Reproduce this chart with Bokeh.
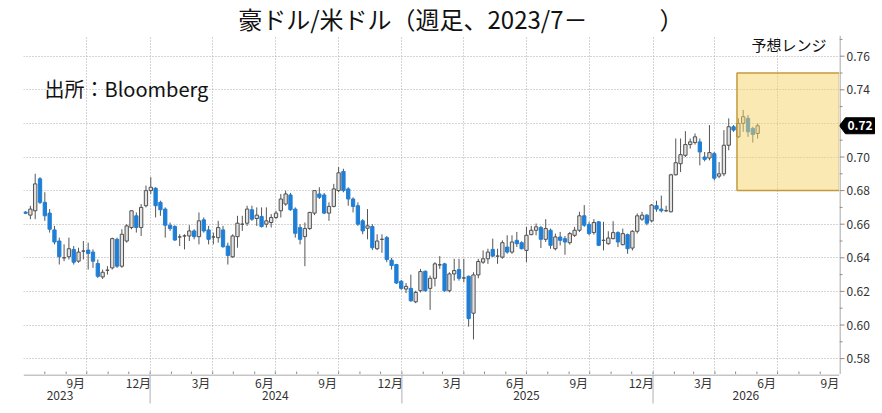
import pandas as pd
from bokeh.plotting import figure
from bokeh.models import Range1d, FixedTicker
from bokeh.layouts import column, row
from bokeh.embed import file_html
from bokeh.resources import INLINE
from bokeh.core.properties import value

# ---------------- data (weekly AUD/USD candles) ----------------
first_week = "2023-07-04"
open_ = [0.6672, 0.6654, 0.668, 0.687, 0.673, 0.6666, 0.6566, 0.650, 0.640, 0.6406,
         0.645, 0.638, 0.644, 0.6446, 0.6434, 0.6366, 0.6286, 0.6326, 0.634, 0.651,
         0.635, 0.650, 0.658, 0.665, 0.658, 0.671, 0.680, 0.6814, 0.673, 0.669,
         0.6594, 0.6586, 0.6524, 0.653, 0.653, 0.656, 0.6526, 0.6626, 0.6566, 0.6524,
         0.652, 0.6566, 0.647, 0.6406, 0.6526, 0.660, 0.6606, 0.6686, 0.6634, 0.6646,
         0.660, 0.661, 0.664, 0.668, 0.672, 0.6774, 0.669, 0.658, 0.6526, 0.6574,
         0.6666, 0.678, 0.6774, 0.6666, 0.6706, 0.680, 0.6914, 0.681, 0.675, 0.671,
         0.662, 0.6576, 0.6586, 0.6454, 0.651, 0.652, 0.6386, 0.636, 0.626, 0.6214,
         0.6218, 0.6138, 0.6204, 0.632, 0.6218, 0.6278, 0.6358, 0.6364, 0.6204, 0.6304,
         0.633, 0.628, 0.629, 0.607, 0.6298, 0.6374, 0.6394, 0.645, 0.641, 0.6404,
         0.6464, 0.6434, 0.6504, 0.649, 0.6444, 0.6538, 0.6564, 0.658, 0.651, 0.6564,
         0.6454, 0.6524, 0.6514, 0.649, 0.6534, 0.6564, 0.665, 0.6598, 0.655, 0.6614,
         0.6504, 0.6484, 0.6514, 0.655, 0.6478, 0.6538, 0.6458, 0.6558, 0.663, 0.6654,
         0.662, 0.671, 0.669, 0.668, 0.6674, 0.6894, 0.696, 0.701, 0.7074, 0.7086,
         0.709, 0.700, 0.6994, 0.702, 0.6886, 0.690, 0.707, 0.718, 0.712, 0.720,
         0.723, 0.717, 0.714]
high_ = [0.6678, 0.671, 0.690, 0.688, 0.679, 0.669, 0.659, 0.652, 0.648, 0.652,
         0.647, 0.646, 0.650, 0.649, 0.645, 0.639, 0.633, 0.635, 0.652, 0.652,
         0.657, 0.660, 0.668, 0.667, 0.672, 0.683, 0.688, 0.682, 0.674, 0.670,
         0.661, 0.6594, 0.654, 0.654, 0.6594, 0.657, 0.667, 0.664, 0.659, 0.655,
         0.662, 0.659, 0.649, 0.654, 0.665, 0.665, 0.671, 0.671, 0.670, 0.670,
         0.670, 0.666, 0.668, 0.678, 0.680, 0.6786, 0.670, 0.660, 0.661, 0.6674,
         0.680, 0.682, 0.6786, 0.673, 0.684, 0.694, 0.693, 0.682, 0.676, 0.673,
         0.663, 0.669, 0.660, 0.654, 0.654, 0.653, 0.640, 0.6364, 0.6268, 0.625,
         0.630, 0.6204, 0.6334, 0.6324, 0.6294, 0.6374, 0.641, 0.637, 0.6314, 0.6394,
         0.6394, 0.6394, 0.6294, 0.6314, 0.6394, 0.6444, 0.6454, 0.6514, 0.6454, 0.6504,
         0.6534, 0.6534, 0.6554, 0.6498, 0.6584, 0.659, 0.6604, 0.659, 0.663, 0.6574,
         0.6544, 0.6554, 0.653, 0.6554, 0.6584, 0.6674, 0.6714, 0.6614, 0.663, 0.6618,
         0.6614, 0.6558, 0.6618, 0.6558, 0.6574, 0.6544, 0.6564, 0.6664, 0.6674, 0.666,
         0.672, 0.674, 0.677, 0.671, 0.690, 0.711, 0.711, 0.7154, 0.711, 0.714,
         0.711, 0.703, 0.719, 0.703, 0.697, 0.716, 0.723, 0.719, 0.723, 0.728,
         0.725, 0.718, 0.720]
low_ = [0.6660, 0.663, 0.663, 0.672, 0.662, 0.655, 0.648, 0.636, 0.638, 0.639,
        0.636, 0.637, 0.639, 0.633, 0.634, 0.628, 0.6274, 0.630, 0.633, 0.634,
        0.634, 0.649, 0.657, 0.655, 0.653, 0.670, 0.678, 0.664, 0.665, 0.652,
        0.656, 0.650, 0.647, 0.645, 0.650, 0.651, 0.648, 0.655, 0.648, 0.648,
        0.649, 0.646, 0.636, 0.640, 0.646, 0.656, 0.659, 0.662, 0.659, 0.658,
        0.658, 0.658, 0.663, 0.664, 0.671, 0.668, 0.652, 0.648, 0.635, 0.6566,
        0.6654, 0.675, 0.666, 0.662, 0.670, 0.679, 0.679, 0.671, 0.667, 0.659,
        0.654, 0.651, 0.6446, 0.6446, 0.643, 0.6374, 0.633, 0.6244, 0.621, 0.619,
        0.6138, 0.613, 0.6194, 0.6198, 0.609, 0.623, 0.6334, 0.6198, 0.6194, 0.6264,
        0.6264, 0.6254, 0.599, 0.5914, 0.6278, 0.6364, 0.6364, 0.6404, 0.6364, 0.6394,
        0.6424, 0.6424, 0.6464, 0.645, 0.6374, 0.6534, 0.6534, 0.6458, 0.6494, 0.6454,
        0.6444, 0.6474, 0.6418, 0.6478, 0.6524, 0.6554, 0.6584, 0.6534, 0.6538, 0.647,
        0.6444, 0.6478, 0.651, 0.6464, 0.6474, 0.6424, 0.6444, 0.6544, 0.662, 0.6594,
        0.661, 0.6674, 0.667, 0.6674, 0.667, 0.689, 0.691, 0.700, 0.705, 0.7074,
        0.695, 0.6974, 0.698, 0.686, 0.6874, 0.6886, 0.704, 0.715, 0.7114, 0.715,
        0.712, 0.7086, 0.711]
close_ = [0.6665, 0.669, 0.684, 0.673, 0.665, 0.657, 0.6494, 0.6406, 0.640, 0.6454,
          0.6374, 0.6434, 0.644, 0.6426, 0.638, 0.629, 0.6314, 0.6326, 0.6514, 0.635,
          0.654, 0.659, 0.668, 0.658, 0.670, 0.680, 0.682, 0.671, 0.6686, 0.6594,
          0.6574, 0.6506, 0.6524, 0.653, 0.656, 0.6526, 0.662, 0.656, 0.651, 0.6524,
          0.658, 0.6466, 0.6414, 0.653, 0.6606, 0.660, 0.669, 0.663, 0.6654, 0.6586,
          0.662, 0.664, 0.6666, 0.675, 0.678, 0.6686, 0.6546, 0.651, 0.6574, 0.667,
          0.680, 0.676, 0.6666, 0.6706, 0.681, 0.6906, 0.680, 0.675, 0.6706, 0.660,
          0.656, 0.659, 0.646, 0.650, 0.651, 0.639, 0.6354, 0.625, 0.6218, 0.623,
          0.6144, 0.6194, 0.6318, 0.6204, 0.6278, 0.6364, 0.6358, 0.6204, 0.6304, 0.6324,
          0.6278, 0.628, 0.6038, 0.6298, 0.6378, 0.6394, 0.6434, 0.641, 0.641, 0.649,
          0.6434, 0.6494, 0.6484, 0.6454, 0.6534, 0.6564, 0.6584, 0.651, 0.6574, 0.6474,
          0.6524, 0.6504, 0.6494, 0.6544, 0.6564, 0.665, 0.6594, 0.6544, 0.661, 0.6474,
          0.6504, 0.6518, 0.655, 0.6494, 0.6544, 0.6454, 0.6558, 0.665, 0.6654, 0.6606,
          0.6714, 0.669, 0.668, 0.668, 0.6894, 0.6966, 0.7014, 0.7074, 0.709, 0.712,
          0.703, 0.6986, 0.7026, 0.6874, 0.690, 0.707, 0.718, 0.716, 0.720, 0.724,
          0.715, 0.7134, 0.7186]

# forecast range (予想レンジ)
range_start = "2026-05-03"
range_low = 0.68
range_high = 0.75

# axis ticks / labels
y_ticks = [0.58, 0.60, 0.62, 0.64, 0.66, 0.68, 0.70, 0.72, 0.74, 0.76]
y_tick_labels = ["0.58", "0.60", "0.62", "0.64", "0.66", "0.68", "0.70", "0.72", "0.74", "0.76"]
y_minor_ticks = [0.57, 0.59, 0.61, 0.63, 0.65, 0.67, 0.69, 0.71, 0.73, 0.75, 0.77]
grid_dates = ["2023-10-01", "2024-01-01", "2024-04-01", "2024-07-01", "2024-10-01",
              "2025-01-01", "2025-04-01", "2025-07-01", "2025-10-01", "2026-01-01",
              "2026-04-01", "2026-07-01"]
month_label_dates = ["2023-09-15", "2023-12-15", "2024-03-15", "2024-06-15", "2024-09-15",
                     "2024-12-15", "2025-03-15", "2025-06-15", "2025-09-15", "2025-12-15",
                     "2026-03-15", "2026-06-15", "2026-09-15"]
month_labels = ["9月", "12月", "3月", "6月", "9月", "12月", "3月", "6月", "9月", "12月",
                "3月", "6月", "9月"]
year_label_dates = ["2023-08-23", "2024-07-01", "2025-07-01", "2026-05-16"]
year_labels = ["2023", "2024", "2025", "2026"]
year_sep_dates = ["2024-01-01", "2025-01-01", "2026-01-01"]

title_text = "豪ドル/米ドル（週足、2023/7－　　　）"
source_text = "出所：Bloomberg"
range_text = "予想レンジ"

# ---------------- geometry (pixels of the 882x413 page) ----------------
W = 882
FL, FR = 23, 839            # plot frame left / right
FT, FB = 35, 374            # plot frame top / bottom
H_STRIP = 413 - FB
X0 = pd.Timestamp("2023-07-01")
X1 = pd.Timestamp("2026-09-29")
# value range of the frame: 0.76 sits at y=55.7 and 0.02 spans 33.6 px
PX_PER_UNIT = 33.6 / 0.02
Y1 = 0.76 + (55.7 - FT) / PX_PER_UNIT
Y0 = 0.76 - (FB - 55.7) / PX_PER_UNIT
FONT = "Noto Sans CJK JP"
AXIS_GREY = "#8c8c8c"
TEXT_GREY = "#333333"


def ms(ts):
    return pd.Timestamp(ts).value / 1e6


def px2ms(px):
    return ms(X0) + (px - FL) / (FR - FL) * (ms(X1) - ms(X0))


def py2val(py):
    return Y1 - (py - FT) / PX_PER_UNIT


def base_fig(width, height, x_range, y_range, **kw):
    f = figure(width=width, height=height, x_range=x_range, y_range=y_range,
               toolbar_location=None, output_backend="svg", min_border_top=0,
               min_border_bottom=0, **kw)
    f.outline_line_color = None
    f.background_fill_color = "white"
    f.border_fill_color = "white"
    return f


# ---------------- title strip ----------------
t = base_fig(W, FT, Range1d(0, W), Range1d(FT, 0), x_axis_location=None,
             y_axis_location=None, min_border_left=0, min_border_right=0)
t.xgrid.visible = False
t.ygrid.visible = False
t.text(x=[232], y=[FT / 2], text=[title_text], text_font=value(FONT), text_font_size="24px",
       text_color="#111111", text_align="left", text_baseline="middle")

# ---------------- main plot ----------------
dates = pd.date_range(first_week, periods=len(open_), freq="7D")
up = [c >= o for o, c in zip(open_, close_)]
cdata = dict(
    x=dates,
    top=[max(o, c) for o, c in zip(open_, close_)],
    bottom=[min(o, c) for o, c in zip(open_, close_)],
    high=high_, low=low_,
    fill=["#e3e3e3" if u else "#1f7fd6" for u in up],
    line=["#505050" if u else "#1f7fd6" for u in up],
)

p = base_fig(FR, FB - FT, Range1d(ms(X0), ms(X1)), Range1d(Y0, Y1),
             x_axis_type="datetime", x_axis_location=None, y_axis_location=None,
             min_border_left=FL, min_border_right=0)
p.xgrid.ticker = FixedTicker(ticks=[ms(d) for d in grid_dates])
p.ygrid.ticker = FixedTicker(ticks=y_ticks)
for g in (p.xgrid[0], p.ygrid[0]):
    g.grid_line_color = "#ababab"
    g.grid_line_dash = "1 2"
    g.grid_line_width = 1

# monthly minor ticks of the date axis (pointing into the plot)
month_starts = pd.date_range("2023-08-01", "2026-09-01", freq="MS")
tick_len = 3 / PX_PER_UNIT
p.segment(x0=month_starts, x1=month_starts, y0=[Y0] * len(month_starts),
          y1=[Y0 + tick_len] * len(month_starts), line_color=AXIS_GREY, line_width=1)

# candles
bw = 4.8 * 24 * 3600 * 1000
p.segment(x0="x", x1="x", y0="high", y1="low", source=cdata, line_color="#555555", line_width=1)
p.vbar(x="x", width=bw, top="top", bottom="bottom", source=cdata,
       fill_color="fill", line_color="line", line_width=1)

# forecast range box
p.quad(left=[ms(range_start)], right=[ms(X1)], bottom=[range_low], top=[range_high],
       fill_color="#f8d46a", fill_alpha=0.5, line_color="#c39a3b", line_width=1.5)

p.text(x=[px2ms(44)], y=[py2val(88)], text=[source_text], text_font=value(FONT),
       text_font_size="20px", text_color="#111111", text_baseline="middle", text_align="left")
p.text(x=[px2ms(826)], y=[py2val(44)], text=[range_text], text_font=value(FONT),
       text_font_size="15px", text_color="#111111", text_baseline="middle", text_align="right")

# ---------------- right value axis (shares the plot's y scale) ----------------
SW = W - FR
r = base_fig(SW, FB - FT, Range1d(0, SW), p.y_range, x_axis_location=None,
             y_axis_location=None, min_border_left=0, min_border_right=0)
r.xgrid.visible = False
r.ygrid.visible = False
r.segment(x0=[0.5], x1=[0.5], y0=[Y0], y1=[Y1], line_color=AXIS_GREY, line_width=1)
r.segment(x0=[0] * len(y_ticks), x1=[5] * len(y_ticks), y0=y_ticks, y1=y_ticks,
          line_color=AXIS_GREY, line_width=1)
r.segment(x0=[0] * len(y_minor_ticks), x1=[3] * len(y_minor_ticks), y0=y_minor_ticks,
          y1=y_minor_ticks, line_color=AXIS_GREY, line_width=1)
r.text(x=[7] * len(y_ticks), y=y_ticks, text=y_tick_labels, text_font=value(FONT),
       text_font_size="12px", text_color=TEXT_GREY, text_align="left", text_baseline="middle")

# last-price tag
last = close_[-1]
hh = 8 / PX_PER_UNIT
r.patch(x=[0, 6, 35, 35, 6], y=[last, last + hh, last + hh, last - hh, last - hh],
        fill_color="black", line_color="black")
r.text(x=[8], y=[last], text=[f"{last:.2f}"], text_font=value(FONT), text_font_size="12px",
       text_font_style="bold", text_color="white", text_align="left", text_baseline="middle")

# ---------------- bottom strip: axis line, month/year labels ----------------
s = base_fig(W, H_STRIP, p.x_range, Range1d(H_STRIP, 0), x_axis_location=None,
             y_axis_location=None, min_border_left=FL, min_border_right=W - FR)
s.xgrid.visible = False
s.ygrid.visible = False
s.segment(x0=[ms(X0)], x1=[ms(X1)], y0=[0.5], y1=[0.5], line_color=AXIS_GREY, line_width=1)
s.segment(x0=[ms(d) for d in year_sep_dates], x1=[ms(d) for d in year_sep_dates],
          y0=[0] * len(year_sep_dates), y1=[29] * len(year_sep_dates),
          line_color="#b0b0b0", line_width=1)
s.text(x=[ms(d) for d in month_label_dates], y=[8] * len(month_labels), text=month_labels,
       text_font=value(FONT), text_font_size="12px", text_color=TEXT_GREY,
       text_align="center", text_baseline="middle")
s.text(x=[ms(d) for d in year_label_dates], y=[21] * len(year_labels), text=year_labels,
       text_font=value(FONT), text_font_size="12px", text_color=TEXT_GREY,
       text_align="center", text_baseline="middle")

layout = column(t, row(p, r, spacing=0), s, spacing=0)
open("out.html", "w").write(file_html(layout, INLINE))
